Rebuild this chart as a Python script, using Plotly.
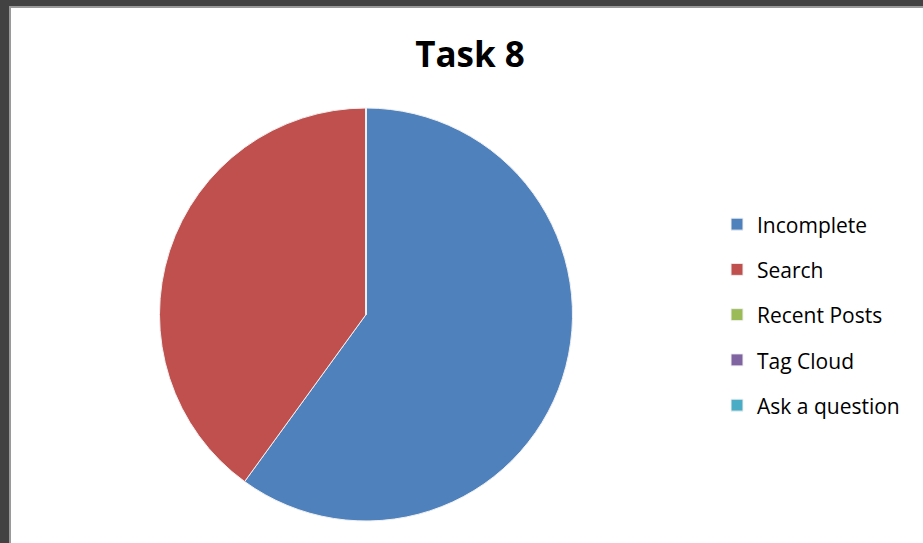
import plotly.graph_objects as go

categories = ["Incomplete", "Search", "Recent Posts", "Tag Cloud", "Ask a question"]
values = [3, 2, 0, 0, 0]
colors = ["#4F81BD", "#C0504D", "#9BBB59", "#8064A2", "#4BACC6"]
title_text = "Task 8"

W, H = 923, 543
legend_labels = [f"<span style='font-size:21px;baseline-shift:4px'>{c}</span>" for c in categories]

fig = go.Figure(go.Pie(
    labels=legend_labels,
    values=values,
    sort=False,
    direction="clockwise",
    rotation=0,
    marker=dict(colors=colors, line=dict(color="#f0f0f0", width=1)),
    textinfo="none",
    hoverinfo="label+value+percent",
    domain=dict(x=[159 / W, 573 / W], y=[1 - 521 / H, 1 - 108 / H]),
))

fig.update_layout(
    width=W, height=H,
    margin=dict(l=0, r=0, t=0, b=0),
    paper_bgcolor="white",
    font=dict(family="Open Sans", color="#000000"),
    title=dict(text=f"<b>{title_text}</b>", x=470 / W, xanchor="center",
               y=1 - 55 / H, yanchor="middle", yref="container",
               font=dict(size=35, family="Open Sans", color="#000000")),
    showlegend=True,
    legend=dict(x=717 / W, xanchor="left", y=1 - 315 / H, yanchor="middle",
                font=dict(size=32.5, family="Open Sans", color="#000000"),
                itemwidth=30, bgcolor="rgba(0,0,0,0)", traceorder="normal"),
    shapes=[
        dict(type="rect", xref="paper", yref="paper", x0=0, x1=1, y0=1 - 6 / H, y1=1,
             fillcolor="#424242", line=dict(width=0), layer="above"),
        dict(type="rect", xref="paper", yref="paper", x0=0, x1=9 / W, y0=0, y1=1,
             fillcolor="#424242", line=dict(width=0), layer="above"),
        dict(type="line", xref="paper", yref="paper", x0=9 / W, x1=1, y0=1 - 7 / H, y1=1 - 7 / H,
             line=dict(color="#9a9a9a", width=2), layer="above"),
        dict(type="line", xref="paper", yref="paper", x0=10 / W, x1=10 / W, y0=0, y1=1 - 6 / H,
             line=dict(color="#9a9a9a", width=2), layer="above"),
    ],
)

fig.write_html("out.html", config={"displayModeBar": False},
               post_script="document.body.style.margin='0';")
